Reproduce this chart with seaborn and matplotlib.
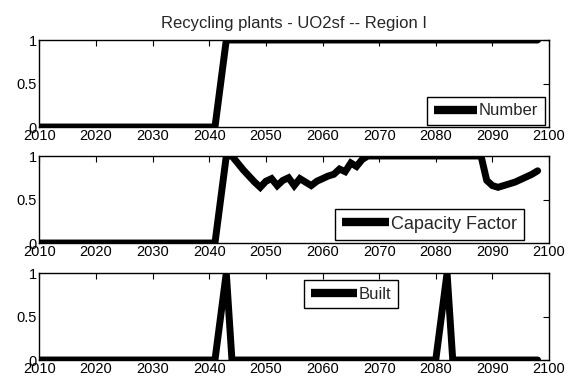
import numpy as np
import pandas as pd
import matplotlib
matplotlib.use("Agg")
import matplotlib.pyplot as plt
import seaborn as sns

# ---- data ----
years = list(range(2010, 2099))

number = [0.0] * 32 + [0.5] + [1.0] * 56  # 2010-2041 zero, ramp 2042, 1 from 2043

capacity_factor = (
    [0.0] * 32
    + [0.5, 1.0, 1.0, 0.92, 0.84, 0.77, 0.70, 0.64,          # 2042-2049
       0.71, 0.74, 0.66, 0.72, 0.75, 0.66, 0.74, 0.70, 0.66,  # 2050-2058
       0.71, 0.74, 0.77, 0.79, 0.85, 0.82, 0.92, 0.88, 0.96]  # 2059-2067
    + [1.0] * 21                                              # 2068-2088
    + [0.72, 0.66, 0.64, 0.66, 0.68, 0.70, 0.73, 0.76, 0.79, 0.83]  # 2089-2098
)

built = [0.0] * len(years)
built[years.index(2042)] = 0.5
built[years.index(2043)] = 1.0
built[years.index(2081)] = 0.5
built[years.index(2082)] = 1.0

series = [("Number", number), ("Capacity Factor", capacity_factor), ("Built", built)]
title = "Recycling plants - UO2sf -- Region I"
xticks = list(range(2010, 2101, 10))
yticks = [0, 0.5, 1]
ytick_labels = ["0", "0.5", "1"]

# ---- style ----
sns.set_style("white")
plt.rcParams["font.family"] = ["Liberation Sans", "DejaVu Sans"]

fig = plt.figure(figsize=(5.68, 3.85), dpi=100)
left, width, height = 0.0695, 0.897, 0.226
bottoms = [0.6701, 0.3688, 0.0649]

legend_specs = [
    dict(loc="lower right", bbox_to_anchor=(0.9595, 0.6753), fontsize=12, handlelength=2.6),
    dict(loc="lower right", bbox_to_anchor=(0.9225, 0.3766), fontsize=13, handlelength=2.6),
    dict(loc="upper left", bbox_to_anchor=(0.5352, 0.2727), fontsize=12, handlelength=2.8),
]

for i, ((name, vals), b, lspec) in enumerate(zip(series, bottoms, legend_specs)):
    ax = fig.add_axes([left, b, width, height])
    df = pd.DataFrame({"year": years, "value": vals})
    sns.lineplot(data=df, x="year", y="value", ax=ax, color="black",
                 linewidth=5, label=name, solid_joinstyle="miter")
    ax.set_xlim(2010, 2100)
    ax.set_ylim(0, 1)
    ax.set_xticks(xticks)
    ax.set_xticklabels([str(t) for t in xticks], fontsize=10.5)
    ax.set_yticks(yticks)
    ax.set_yticklabels(ytick_labels, fontsize=10.5)
    ax.set_xlabel("")
    ax.set_ylabel("")
    ax.tick_params(direction="in", length=4, width=0.8, top=True, right=True,
                   colors="black", pad=2)
    ax.tick_params(axis="x", pad=1.5)
    for sp in ax.spines.values():
        sp.set_visible(True)
        sp.set_color("black")
        sp.set_linewidth(1.0)
    leg = ax.legend(bbox_transform=fig.transFigure,
                    frameon=True, fancybox=False, borderaxespad=0,
                    borderpad=0.4, handletextpad=0.1, **lspec)
    leg.get_frame().set_edgecolor("black")
    leg.get_frame().set_linewidth(1.0)
    leg.get_frame().set_alpha(1)
    for line in leg.get_lines():
        line.set_linewidth(6)
        line.set_solid_capstyle("butt")
    if i == 0:
        ax.set_title(title, fontsize=12, pad=9)

fig.savefig("out.png", dpi=100, facecolor="white")
